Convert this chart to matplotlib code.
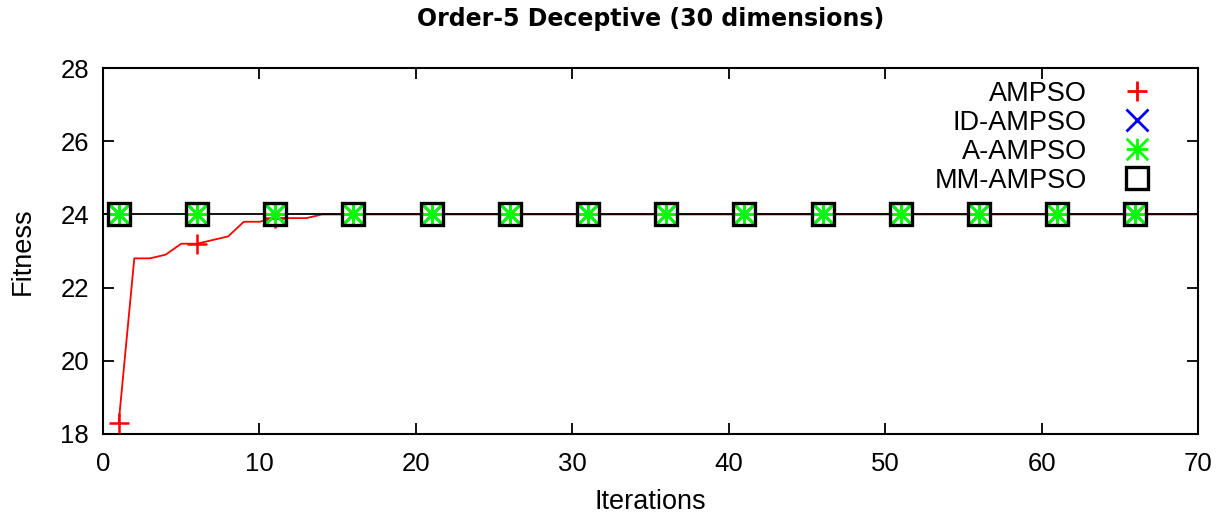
import numpy as np
import matplotlib.pyplot as plt
from matplotlib.lines import Line2D
from matplotlib.path import Path

# data
iters = list(range(1, 71))
ampso_head = [18.3, 22.8, 22.8, 22.9, 23.2, 23.2, 23.3, 23.4, 23.8, 23.8, 23.9, 23.9, 23.9]
ampso = ampso_head + [24.0] * (len(iters) - len(ampso_head))
id_ampso = [24.0] * len(iters)
a_ampso = [24.0] * len(iters)
mm_iters = list(range(0, 71))
mm_ampso = [24.0] * len(mm_iters)

labels = ['AMPSO', 'ID-AMPSO', 'A-AMPSO', 'MM-AMPSO']
colors = ['#ff0000', '#0000ff', '#00ff00', '#000000']

# gnuplot style "*" : plus and cross together
star = Path([(-1, 0), (1, 0), (0, -1), (0, 1), (-1, -1), (1, 1), (-1, 1), (1, -1)],
            [Path.MOVETO, Path.LINETO] * 4)
markers = ['+', 'x', star, 's']
msize = [14.5, 15.5, 15.5, 15.5]

plt.rcParams['font.family'] = ['Liberation Sans', 'DejaVu Sans']
fig = plt.figure(figsize=(12.22, 5.16), dpi=100)
ax = fig.add_axes([0.0843, 0.159, 0.8961, 0.709])

ax.plot(iters, ampso, color=colors[0], lw=1.3, zorder=2)
ax.plot(iters[::5], ampso[::5], ls='none', marker=markers[0], ms=msize[0], mew=1.8,
        color=colors[0], zorder=4)
ax.plot(mm_iters, mm_ampso, color=colors[3], lw=1.3, zorder=3)
ax.plot(iters[::5], id_ampso[::5], ls='none', marker=markers[1], ms=msize[1], mew=1.8,
        color=colors[1], zorder=5)
ax.plot(iters[::5], a_ampso[::5], ls='none', marker=markers[2], ms=msize[2], mew=2.2,
        color=colors[2], zorder=6)
ax.plot(mm_iters[1::5], mm_ampso[1::5], ls='none', marker=markers[3], ms=msize[3], mew=2.4,
        mfc='none', mec=colors[3], zorder=7)

ax.set_xlim(0, 70)
ax.set_ylim(18, 28)
ax.set_xticks(range(0, 71, 10))
ax.set_yticks(range(18, 29, 2))
ax.tick_params(direction='in', length=8, width=1.3, labelsize=18.5, top=True, right=True)
ax.tick_params(axis='x', pad=13)
ax.tick_params(axis='y', pad=10)
for s in ax.spines.values():
    s.set_linewidth(1.5)

ax.set_xlabel('Iterations', fontsize=19.5, labelpad=9)
ax.set_ylabel('Fitness', fontsize=19.5, labelpad=18)
ax.set_title('Order-5 Deceptive (30 dimensions)', fontsize=17, fontweight='bold',
             family='DejaVu Sans', pad=30)

handles = []
for c, m, s in zip(colors, markers, msize):
    if m == 's':
        h = Line2D([], [], ls='none', marker=m, ms=s, mew=2.4, mfc='none', mec=c)
    else:
        h = Line2D([], [], ls='none', marker=m, ms=s, mew=2.0, color=c)
    handles.append(h)
leg = ax.legend(handles, labels, loc='upper right', frameon=False, markerfirst=False,
                fontsize=19.5, handlelength=1.0, handletextpad=1.35, labelspacing=0.11,
                bbox_to_anchor=(0.9665, 0.995), borderaxespad=0)
for t in leg.get_texts():
    t.set_ha('right')

fig.savefig('out.png', dpi=100)
